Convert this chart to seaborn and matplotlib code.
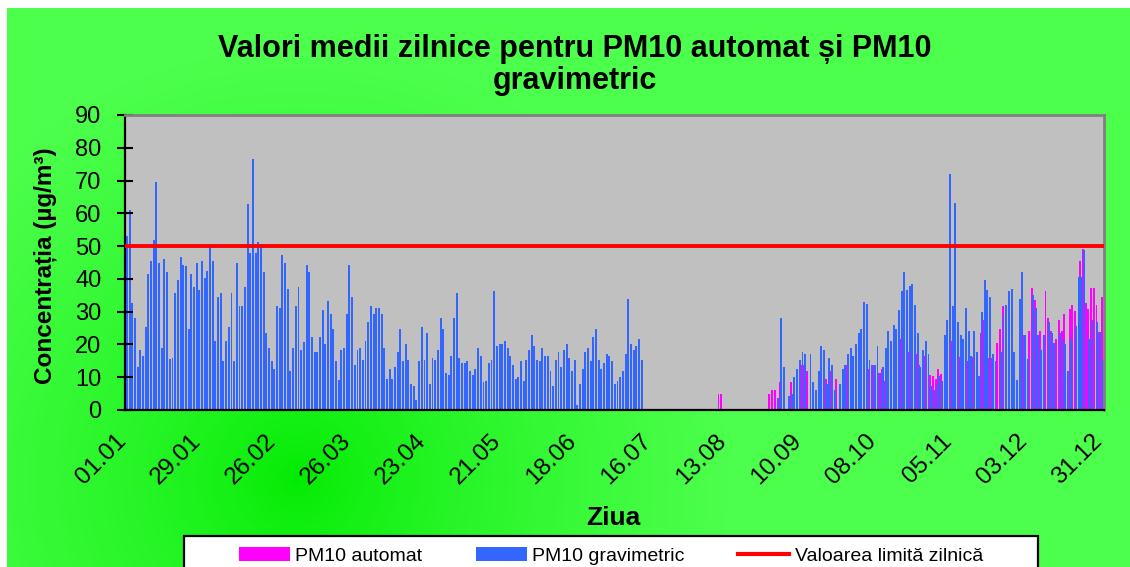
import numpy as np
import pandas as pd
import seaborn as sns
import matplotlib.pyplot as plt
from matplotlib.patches import Patch, Rectangle
from matplotlib.lines import Line2D
from matplotlib.transforms import ScaledTranslation

plt.rcParams['font.family'] = ['Liberation Sans', 'DejaVu Sans']

nan = float("nan")

# zilele anului (0 = 01.01, 364 = 31.12)
days = np.arange(365)
tick_days = [0, 28, 56, 84, 112, 140, 168, 196, 224, 252, 280, 308, 336, 364]
tick_labels = ["01.01", "29.01", "26.02", "26.03", "23.04", "21.05", "18.06",
               "16.07", "13.08", "10.09", "08.10", "05.11", "03.12", "31.12"]
limit_value = 50

# PM10 gravimetric, 01.01 - 11.07
grav_jan_jul = [
    53, 61, 32.7, 28, 13.2, 18.3, 16.6, 25.3, 41.5, 45.5, 52, 69.7, 44.9, 18.9, 46, 42,
    15.7, 16, 35.7, 39.7, 46.7, 44.3, 43.8, 24.7, 41.5, 37.4, 44.9, 36.7, 45.6, 40.3,
    42.5, 49.6, 45.5, 21.2, 34.4, 35.7, 14.9, 21.2, 25.3, 35.7, 14.9, 44.9, 31.6, 31.6,
    37.4, 62.9,
    48, 76.7, 47.8, 51.2, 50.7, 42, 23.5, 18.9, 14.9, 12.4, 31.6, 31, 47.2, 44.9, 36.9,
    11.9, 18.9, 31.6, 37.4, 18.3, 20.6, 44.3, 42, 22.3, 17.7, 17.7, 22.3, 30.5, 20, 33.2,
    29.2, 24.7, 14.9, 9.1, 18.3, 18.9, 29.2, 44.3, 34.4, 13.6, 18.3, 18.9, 15.3, 21.1,
    26.9, 31.6, 29.2, 31,
    31.1, 29.4, 18.8, 9.6, 12.4, 9.6, 13.0, 17.6, 24.7, 14.8, 20.0, 15.4, 7.8, 7.3, 3.0,
    14.8, 25.3, 15.4, 23.5, 7.8, 15.9, 15.4, 18.2, 28.2, 24.7, 11.3, 10.7, 16.5, 28.2,
    35.7, 15.9, 14.2, 14.2, 14.8, 11.9, 10.7, 12.4, 18.8, 16.5, 8.4, 9.0, 14.2, 15.4,
    36.2, 19.4, 20,
    20, 21.1, 18.8, 16.5, 13.7, 9.6, 10.1, 14.8, 9.0, 15.4, 18.2, 22.8, 19.4, 15.4, 14.8,
    18.8, 16.5, 16.5, 11.9, 7.3, 15.4, 17.6, 13.0, 18.2, 20.0, 15.9, 11.9, 15.4, 1.4, 7.8,
    12.4, 17.6, 18.8, 14.8, 22.3, 24.7, 15.4, 12.4, 14.2, 17.1, 16.5, 14.8, 7.8, 9.0,
    10.1, 11.9, 17.1, 33.8, 20.0, 18.2, 19.4, 21.7, 15.4,
]

# PM10 automat, 09.08 - 10.08
auto_aug = [5.0, 5.0]

# 28.08 - 31.12
auto_sep_dec = [
    5.0, 6.1, 6.1, nan, 8.4, nan, nan, nan, 8.4, nan, nan, nan, 13.7, 13.7, 11.9, nan,
    nan, nan, nan, nan, nan, 9.6, nan, 11.9, nan, 9.6, nan, nan, 13.7, 13.7, nan, nan,
    nan, nan, 15.4, nan, nan, 12.4, nan, 13.7, nan, 11.3, 12.4, 9.0, 15.3, nan, nan, 16.6,
    nan, 21.7, nan, nan, 17.7, nan, nan, 17.1, 13.6, nan, 16.6, nan, 10.8, 10.3, 9.5, 12.4,
    11.0, nan, 22.9, nan, 21.1, nan, nan, 16.2, nan, nan, 14.9, nan, 16.2, nan, nan, 23.5,
    27.5, nan, 15.8, 15.8, nan, 20.4, 24.7, 31.6, nan, nan, nan, nan, nan, nan, nan, 23.0,
    nan, 24.1, 37.2, 33.5, nan, 24.1, nan, 36.2, 28.0, 24.1, nan, 21.7, 27.5, 24.1, 29.2,
    nan, 30.8, 32.1, 30.3, nan, 45.4, 49.0, 32.6, 30.7, 37.2, 37.2, 32.1, 23.9, 34.4,
]
grav_sep_dec = [
    nan, nan, nan, 3.8, 28.2, 13.0, nan, 4.4, 5.0, 10.0, 12.4, 15.4, 17.6, 17.1, nan, 17.1,
    8.4, 6.1, 11.9, 19.4, 18.2, 7.8, 15.9, 13.7, 6.1, nan, 7.8, 12.4, 13.7, 17.1, 18.8,
    16.5, 20.0, 23.5, 24.7, 32.8, 32.2, 15.4, 13.7, 13.7, 19.4, 11.3, 13.0, 18.9, 24.0,
    21.1, 25.8, 24.6, 30.5, 36.2, 42.0, 36.7, 37.9, 38.5, 32.1, 23.5, 13.0, 18.3, 21.1,
    17.1, 7.4, 6.0, 8.0, 10.3, 9.0, 22.9, 27.5, 72.1, 31.6, 63.2, 26.9, 22.9, 21.7, 31.0,
    24.1, 16.6, 24.0, 17.7, 10.3, 29.9, 39.7, 36.7, 34.4, 17.1, 14.8, nan, 17.7, 29.2,
    32.1, 36.2, 36.9, 17.8, 9.2, 33.9, 42.1, 22.9, 15.5, nan, 35.2, 31.1, 22.9, 18.3,
    22.9, nan, 27.0, 23.4, 20.4, nan, 23.6, 21.7, 20.0, 11.9, 21.6, nan, 25.6, 40.7, 40.7,
    48.7, nan, 21.6, 27.5, nan, 26.9, 23.9, 15.3,
]

grav = grav_jan_jul + [nan] * (240 - len(grav_jan_jul)) + grav_sep_dec
auto = [nan] * 221 + auto_aug + [nan] * 17 + auto_sep_dec

df = pd.DataFrame({"day": days, "automat": auto, "gravimetric": grav})
df_auto = df[["day", "automat"]].dropna().rename(columns={"automat": "value"})
df_grav = df[["day", "gravimetric"]].dropna().rename(columns={"gravimetric": "value"})
# bara automat putin la stanga, gravimetric peste ea (ca in Excel)
df_auto["pos"] = df_auto["day"] - 0.22
df_grav["pos"] = df_grav["day"] + 0.12

W, H = 1130, 567
fig = plt.figure(figsize=(W / 100, H / 100), dpi=100)
fig.patch.set_facecolor("white")

# fundal verde cu gradient
bg = fig.add_axes([7 / W, 0, 1 - 7 / W, 1 - 8 / H], zorder=-10)
gh, gw = H - 8, W - 7
yy, xx = np.mgrid[0:gh, 0:gw]
t = np.clip(np.hypot(xx - 290, yy - 470) / 430, 0, 1) ** 0.7
inner = np.array([0.0, 0.92, 0.0])
outer = np.array([0.30, 1.0, 0.30])
bg.imshow(inner * (1 - t[..., None]) + outer * t[..., None], aspect="auto")
bg.axis("off")

ax = fig.add_axes([125 / W, 1 - 410 / H, (1104 - 125) / W, (410 - 115) / H])
ax.set_facecolor("#C0C0C0")

sns.barplot(data=df_auto, x="pos", y="value", native_scale=True, orient="x",
            color="#FF00FF", saturation=1, width=0.7, errorbar=None, linewidth=0, ax=ax)
sns.barplot(data=df_grav, x="pos", y="value", native_scale=True, orient="x",
            color="#3366FF", saturation=1, width=0.72, errorbar=None, linewidth=0, ax=ax)
ax.axhline(limit_value, color="#FF0000", lw=2.8, zorder=5)

ax.set_xlim(-0.6, 364.6)
ax.set_ylim(0, 90)
ax.set_yticks(range(0, 91, 10))
ax.set_xticks(tick_days)
ax.set_xticklabels(tick_labels, rotation=45, ha="right", va="center", rotation_mode="anchor")
ax.tick_params(axis="x", length=0, pad=20, labelsize=17.5)
ax.tick_params(axis="y", direction="inout", length=12, width=1.5, pad=11, labelsize=17)
for lab in ax.get_xticklabels():
    lab.set_transform(lab.get_transform() + ScaledTranslation(-4 / 100, 0, fig.dpi_scale_trans))
ax.set_xlabel("")
ax.set_ylabel("")
for side in ["left", "bottom"]:
    ax.spines[side].set_color("black")
    ax.spines[side].set_linewidth(1.6)
for side in ["top", "right"]:
    ax.spines[side].set_color("#808080")
    ax.spines[side].set_linewidth(2)

fig.text(575 / W, 1 - 65 / H, "Valori medii zilnice pentru PM10 automat și PM10\ngravimetric",
         ha="center", va="center", fontsize=22, fontweight="bold", linespacing=1.1)
fig.text(45 / W, 1 - 266 / H, "Concentrația (µg/m³)", rotation=90, ha="center", va="center",
         fontsize=17.5, fontweight="bold")
fig.text(613 / W, 1 - 518 / H, "Ziua", ha="center", va="center", fontsize=19, fontweight="bold")

# chenarul legendei (taiat de marginea de jos, ca in original)
fig.add_artist(Rectangle((184 / W, -0.1), (1038 - 184) / W, 1 - 536 / H + 0.1,
                         transform=fig.transFigure, facecolor="white", edgecolor="black",
                         lw=1.6, zorder=2))
handles = [Patch(facecolor="#FF00FF", edgecolor="none"),
           Patch(facecolor="#3366FF", edgecolor="none"),
           Line2D([], [], color="#FF0000", lw=3)]
labels = ["PM10 automat", "PM10 gravimetric", "Valoarea limită zilnică"]
leg = fig.legend(handles, labels, loc="upper left", ncol=3,
                 bbox_to_anchor=(239 / W, 1 - 547 / H), borderaxespad=0, borderpad=0,
                 frameon=False, fontsize=14, handlelength=2.6, handleheight=0.75,
                 handletextpad=0.3, columnspacing=2.75)
leg.set_zorder(3)

fig.savefig("out.png", dpi=100)
